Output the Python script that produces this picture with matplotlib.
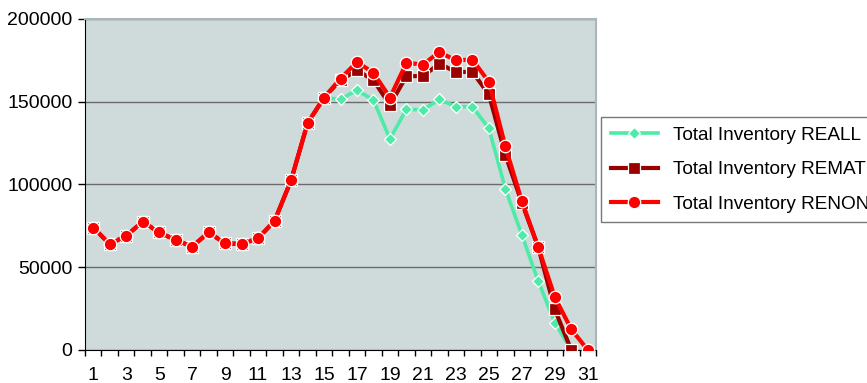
import numpy as np
import matplotlib
matplotlib.use("Agg")
import matplotlib.pyplot as plt

days = list(range(1, 32))
reall = [74000, 64000, 69000, 77500, 71000, 66500, 62500, 71000, 64500, 64000, 67500, 78000, 102500,
         137000, 152500, 151500, 157000, 151000, 127500, 145500, 145000, 151500, 147000, 147000,
         134000, 97500, 69500, 41500, 16500, 0, np.nan]
remat = [74000, 64000, 69000, 77500, 71000, 66500, 62500, 71000, 64500, 64000, 67500, 78000, 102500,
         137000, 152500, 163000, 169000, 163000, 148000, 165500, 165500, 173000, 168000, 168000,
         154500, 118000, 89000, 62000, 24500, 0, np.nan]
renon = [74000, 64000, 69000, 77500, 71000, 66500, 62500, 71000, 64500, 64000, 67500, 78000, 102500,
         137000, 152500, 164000, 174000, 167500, 152500, 173500, 172500, 180000, 175000, 175500,
         162000, 123000, 90000, 62000, 32000, 12500, 0]
labels = ["Total Inventory REALL", "Total Inventory REMAT", "Total Inventory RENON"]
yticks = [0, 50000, 100000, 150000, 200000]

plt.rcParams['font.family'] = ['Liberation Sans', 'DejaVu Sans']

fig = plt.figure(figsize=(8.67, 3.83), dpi=100)
ax = fig.add_axes([85/867, 33/383, (596-85)/867, (350-19)/383])
ax.set_facecolor('#CFDBDB')

ax.plot(days, reall, color='#4EEAA8', lw=2.6, marker='D', ms=6.5, mec='white', mew=0.9,
        label=labels[0], zorder=3)
ax.plot(days, remat, color='#990000', lw=3.0, marker='s', ms=8, mec='white', mew=0.9,
        label=labels[1], zorder=4)
ax.plot(days, renon, color='#FF0000', lw=3.0, marker='o', ms=9, mec='white', mew=0.9,
        label=labels[2], zorder=5)

ax.set_xlim(0.5, 31.5)
ax.set_ylim(0, 200000)
ax.set_yticks(yticks)
ax.set_yticklabels([str(v) for v in yticks], fontsize=14)
ax.set_xticks(days[::2])
ax.set_xticklabels([str(d) for d in days[::2]], fontsize=14)
ax.set_xticks(np.arange(0.5, 32, 1), minor=True)
ax.tick_params(axis='x', which='major', length=0, pad=12)
ax.tick_params(axis='x', which='minor', length=4, width=1, color='black', direction='out')
ax.tick_params(axis='y', length=5, width=1, direction='out', pad=4)
ax.grid(axis='y', color='#6B6B6B', lw=1.0, zorder=1)
ax.set_axisbelow(True)
for s in ['top', 'right']:
    ax.spines[s].set_color('#A8B8B8')
    ax.spines[s].set_linewidth(1.5)
ax.spines['left'].set_color('black')
ax.spines['bottom'].set_color('black')

leg = fig.legend(loc='upper left', bbox_to_anchor=(601/867, 1 - 117/383), fontsize=13.7,
                 frameon=True, fancybox=False, edgecolor='#555555', handlelength=2.5,
                 borderpad=0.5, labelspacing=0.9, handletextpad=0.8, borderaxespad=0)
leg.get_frame().set_linewidth(1.0)

fig.savefig('out.png', dpi=100, facecolor='white')
